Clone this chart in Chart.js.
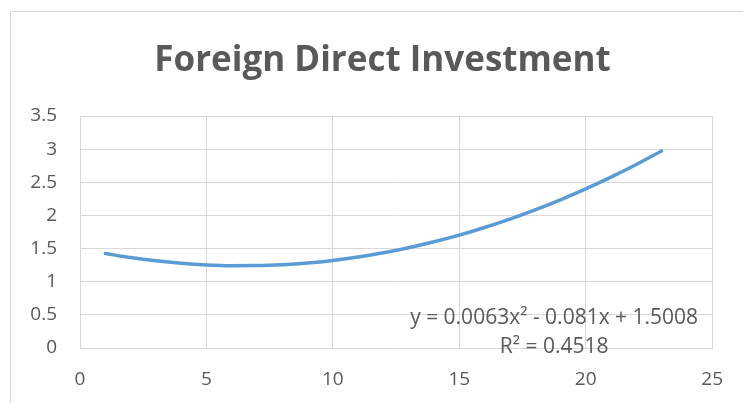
<!DOCTYPE html>
<html>
<head>
<meta charset="utf-8">
<script src="https://cdn.jsdelivr.net/npm/chart.js@4.4.1/dist/chart.umd.min.js"></script>
<style>
  html, body { margin: 0; padding: 0; background: #fff; overflow: hidden; }
  .frame { position: absolute; left: 10px; top: 11px; width: 800px; height: 500px; border: 1px solid #d9d9d9; }
  #fdiChart { position: absolute; left: 0; top: 0; }
</style>
</head>
<body>
<div class="frame"></div>
<canvas id="fdiChart" width="743" height="403"></canvas>
<script>
// Polynomial trendline (order 2), sampled at each period
var periods = [1, 2, 3, 4, 5, 6, 7, 8, 9, 10, 11, 12, 13, 14, 15, 16, 17, 18, 19, 20, 21, 22, 23];
var trendValues = [1.426, 1.364, 1.315, 1.278, 1.253, 1.242, 1.243, 1.256, 1.282, 1.321, 1.372, 1.436,
                   1.513, 1.602, 1.703, 1.818, 1.945, 2.084, 2.236, 2.401, 2.578, 2.768, 2.971];
var trendLabel = ['y = 0.0063x\u00b2 - 0.081x + 1.5008', 'R\u00b2 = 0.4518'];

var textColor = '#595959';
var gridColor = '#d9d9d9';
var fontFamily = '"Open Sans", "Noto Sans", sans-serif';

// Equation + R² box, drawn over the plot like Excel does
var trendLabelPlugin = {
    id: 'trendLabel',
    afterDatasetsDraw: function (chart) {
        var ctx = chart.ctx;
        var area = chart.chartArea;
        ctx.save();
        ctx.fillStyle = textColor;
        ctx.font = '21px ' + fontFamily;
        ctx.textAlign = 'center';
        ctx.textBaseline = 'middle';
        var cx = area.right - 158;
        ctx.fillText(trendLabel[0], cx, area.bottom - 30);
        ctx.fillText(trendLabel[1], cx, area.bottom - 1);
        ctx.restore();
    }
};

var fdiCtx = document.getElementById('fdiChart').getContext('2d');
var fdiChart = new Chart(fdiCtx, {
    type: 'scatter',
    data: {
        datasets: [{
            label: 'Poly. (Foreign Direct Investment)',
            data: periods.map(function (p, i) { return { x: p, y: trendValues[i] }; }),
            showLine: true,
            borderColor: '#5b9bd5',
            borderWidth: 3.5,
            borderCapStyle: 'round',
            cubicInterpolationMode: 'monotone',
            pointRadius: 0,
            fill: false
        }]
    },
    options: {
        responsive: false,
        animation: false,
        // left padding shifts the title so it centres on the outer frame
        layout: {
            padding: { left: 22, right: 0, top: 0, bottom: 0 }
        },
        plugins: {
            legend: { display: false },
            tooltip: { enabled: false },
            title: {
                display: true,
                text: 'Foreign Direct Investment',
                color: textColor,
                font: { family: fontFamily, size: 35, weight: 'bold', lineHeight: 1.2 },
                padding: { top: 40, bottom: 34 }
            }
        },
        scales: {
            x: {
                type: 'linear',
                min: 0,
                max: 25,
                ticks: { stepSize: 5, color: textColor, padding: 20, font: { family: fontFamily, size: 19 } },
                grid: { color: gridColor, lineWidth: 1, drawTicks: false },
                border: { color: gridColor },
                afterFit: function (scale) { scale.height = 403 - 348; }
            },
            y: {
                min: 0,
                max: 3.5,
                ticks: {
                    stepSize: 0.5,
                    color: textColor,
                    padding: 23,
                    font: { family: fontFamily, size: 19 },
                    callback: function (value) { return String(Math.round(value * 10) / 10); }
                },
                grid: { color: gridColor, lineWidth: 1, drawTicks: false },
                border: { color: gridColor },
                afterFit: function (scale) { scale.width = 58; }
            },
            // empty right-hand gutter
            yGutter: {
                position: 'right',
                display: true,
                min: 0,
                max: 3.5,
                ticks: { display: false },
                grid: { display: false, drawTicks: false },
                border: { display: false },
                afterFit: function (scale) { scale.width = 28; }
            }
        }
    },
    plugins: [trendLabelPlugin]
});
</script>
</body>
</html>
